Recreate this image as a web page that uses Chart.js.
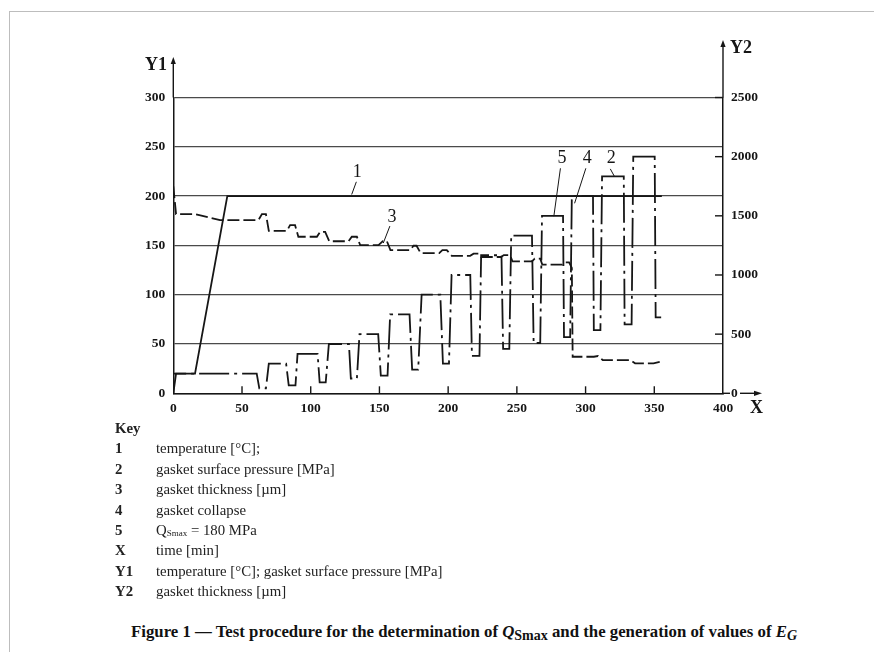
<!DOCTYPE html>
<html>
<head>
<meta charset="utf-8">
<script src="https://cdn.jsdelivr.net/npm/chart.js@4.4.1/dist/chart.umd.min.js"></script>
<style>
  html, body { margin: 0; padding: 0; background: #fff; }
  body { width: 874px; height: 652px; position: relative; overflow: hidden; }
  #frameTop { position: absolute; left: 9px; top: 11px; width: 865px; height: 0; border-top: 1.5px solid #bdbdbd; }
  #frameLeft { position: absolute; left: 9px; top: 11px; width: 0; height: 641px; border-left: 1.5px solid #bdbdbd; }
  #c { position: absolute; left: 0; top: 0; }
  #key { position: absolute; left: 115px; top: 418px; font-family: 'Liberation Serif', serif; font-size: 14.8px; line-height: 20.4px; color: #222; }
  #key .row { white-space: nowrap; height: 20.4px; }
  #key .n { display: inline-block; width: 41px; font-weight: bold; }
  #key sub { font-size: 9px; vertical-align: baseline; position: relative; top: 1px; line-height: 0; }
  #title { position: absolute; left: 131px; top: 621px; font-family: 'Liberation Serif', serif; font-size: 16.8px; line-height: 22px; font-weight: bold; color: #111; white-space: nowrap; }
  #title sub { font-size: 14px; vertical-align: baseline; position: relative; top: 3px; line-height: 0; }
</style>
</head>
<body>
<div id="frameTop"></div>
<div id="frameLeft"></div>
<canvas id="c" width="874" height="420"></canvas>
<div id="key">
  <div class="row"><b>Key</b></div>
  <div class="row"><span class="n">1</span>temperature [°C];</div>
  <div class="row"><span class="n">2</span>gasket surface pressure [MPa]</div>
  <div class="row"><span class="n">3</span>gasket thickness [µm]</div>
  <div class="row"><span class="n">4</span>gasket collapse</div>
  <div class="row"><span class="n">5</span>Q<sub>Smax</sub> = 180 MPa</div>
  <div class="row"><span class="n">X</span>time [min]</div>
  <div class="row"><span class="n">Y1</span>temperature [°C]; gasket surface pressure [MPa]</div>
  <div class="row"><span class="n">Y2</span>gasket thickness [µm]</div>
</div>
<div id="title">Figure 1 — Test procedure for the determination of <i>Q</i><sub>Smax</sub> and the generation of values of <i>E</i><sub><i>G</i></sub></div>
<script>
// ---- data ----
const xTicks = [0, 50, 100, 150, 200, 250, 300, 350, 400];
const y1Ticks = [0, 50, 100, 150, 200, 250, 300];
const y2Ticks = [0, 500, 1000, 1500, 2000, 2500];

const temperatureTime = [0, 15.8, 39.3, 355.5];
const temperatureValue = [20, 20, 200, 200];

const pressureTime = [0, 2, 60.7, 62.6, 67.4, 69.5, 82.1, 84, 88.9, 90.4, 105, 106.5, 110.9, 113.2,
  127.8, 129.2, 133.6, 135.5, 149.1, 151, 155.9, 157.8, 171.9, 173.8, 178.2, 180.7, 194.3, 196.2,
  200.6, 202.5, 216.1, 217.3, 222.8, 224, 238.8, 240, 244.5, 245.9, 261, 262.2, 267, 268.3,
  283.6, 284.3, 288.8, 290, 305.4, 306, 310.8, 312, 327.8, 328.4, 333.5, 334.7, 350.3, 351, 355];
const pressureValue = [0, 20, 20, 5, 5, 30, 30, 8, 8, 40, 40, 11, 11, 50,
  50, 15, 15, 60, 60, 18, 18, 80, 80, 24, 24, 100, 100, 30,
  30, 120, 120, 38, 38, 140, 140, 45, 45, 160, 160, 51, 51, 180,
  180, 57, 57, 200, 200, 64, 64, 220, 220, 70, 70, 240, 240, 77, 77];

const thicknessTime = [0, 2, 15.8, 34, 62, 64.5, 67.4, 69.5, 82.6, 85, 88.6, 91, 104.5, 106.9, 110.5,
  113.5, 127.5, 129.9, 133.6, 136, 149.3, 152.5, 155.4, 158, 172.4, 174.8, 177, 180, 193.5, 195.8,
  199, 202.6, 216, 218.5, 222, 224, 238.5, 240.5, 245, 246.8, 261, 263, 267, 268.5, 283, 284.8,
  288, 290, 290.6, 306, 309, 312.5, 332.4, 336, 349.4, 354.5];
const thicknessValue = [1750, 1515, 1515, 1464, 1464, 1515, 1515, 1373, 1373, 1421, 1421, 1323, 1323, 1365, 1365,
  1285, 1285, 1323, 1323, 1252, 1252, 1286, 1286, 1210, 1210, 1247, 1247, 1185, 1185, 1210,
  1210, 1162, 1162, 1180, 1180, 1152, 1152, 1168, 1168, 1115, 1115, 1138, 1138, 1088, 1088, 1106,
  1106, 1060, 309, 309, 315, 281, 281, 253, 253, 267];

// callouts: label, text position and leader line (data units of x / y1)
const callouts = [
  { label: '1', tx: 133.8, ty: 224.6, x1: 133.2, y1: 214.5, x2: 129.8, y2: 201.6 },
  { label: '3', tx: 159.1, ty: 179.0, x1: 157.6, y1: 169.6, x2: 152.8, y2: 152.4 },
  { label: '5', tx: 282.8, ty: 238.3, x1: 281.7, y1: 228.2, x2: 276.9, y2: 179.5 },
  { label: '4', tx: 301.2, ty: 238.3, x1: 300.2, y1: 228.2, x2: 292.0, y2: 192.7 },
  { label: '2', tx: 318.7, ty: 238.3, x1: 318.0, y1: 227.6, x2: 321.1, y2: 219.7 }
];

const toXY = (xs, ys) => xs.map((x, i) => ({ x: x, y: ys[i] }));

const INK = '#161616';
const tickFont = { family: 'Liberation Serif', size: 13.5, weight: 'bold' };
const plainLabel = v => String(v);

const decor = {
  id: 'decor',
  afterDraw(chart) {
    const { ctx, chartArea: a, scales } = chart;
    const xs = scales.x, y1 = scales.y, y2 = scales.y2;
    ctx.save();
    ctx.strokeStyle = INK;
    ctx.fillStyle = INK;
    ctx.lineWidth = 1.4;
    // inward ticks on X
    xs.ticks.forEach(t => {
      if (t.value <= 0 || t.value >= 400) return;
      const px = xs.getPixelForValue(t.value);
      ctx.beginPath(); ctx.moveTo(px, a.bottom); ctx.lineTo(px, a.bottom - 7); ctx.stroke();
    });
    // inward ticks on Y2
    y2.ticks.forEach(t => {
      if (t.value <= 0) return;
      const py = y2.getPixelForValue(t.value);
      ctx.beginPath(); ctx.moveTo(a.right, py); ctx.lineTo(a.right - 8, py); ctx.stroke();
    });
    // axis extensions with arrows
    const arrowUp = (x, yTop, yFrom) => {
      ctx.beginPath(); ctx.moveTo(x, yFrom); ctx.lineTo(x, yTop + 4); ctx.stroke();
      ctx.beginPath(); ctx.moveTo(x, yTop); ctx.lineTo(x - 2.6, yTop + 7); ctx.lineTo(x + 2.6, yTop + 7); ctx.closePath(); ctx.fill();
    };
    arrowUp(a.left, 57, a.top);
    arrowUp(a.right, 40, a.top);
    const yb = a.bottom;
    ctx.beginPath(); ctx.moveTo(a.right, yb); ctx.lineTo(a.right + 7, yb); ctx.stroke();
    ctx.beginPath(); ctx.moveTo(a.right + 17, yb); ctx.lineTo(758, yb); ctx.stroke();
    ctx.beginPath(); ctx.moveTo(762, yb); ctx.lineTo(754, yb - 2.6); ctx.lineTo(754, yb + 2.6); ctx.closePath(); ctx.fill();
    // axis names
    ctx.font = 'bold 18px "Liberation Serif"';
    ctx.textBaseline = 'middle';
    ctx.textAlign = 'right';
    ctx.fillText('Y1', 167, 65);
    ctx.textAlign = 'left';
    ctx.fillText('Y2', 730, 48);
    ctx.fillText('X', 750, 408);
    // callouts
    ctx.font = '18px "Liberation Serif"';
    ctx.textAlign = 'center';
    ctx.lineWidth = 1;
    callouts.forEach(c => {
      ctx.fillText(c.label, xs.getPixelForValue(c.tx), y1.getPixelForValue(c.ty));
      ctx.beginPath();
      ctx.moveTo(xs.getPixelForValue(c.x1), y1.getPixelForValue(c.y1));
      ctx.lineTo(xs.getPixelForValue(c.x2), y1.getPixelForValue(c.y2));
      ctx.stroke();
    });
    ctx.restore();
  }
};

new Chart(document.getElementById('c'), {
  type: 'line',
  data: {
    datasets: [
      { label: 'temperature', data: toXY(temperatureTime, temperatureValue), yAxisID: 'y',
        borderColor: INK, borderWidth: 1.8, pointRadius: 0, tension: 0, fill: false },
      { label: 'gasket surface pressure', data: toXY(pressureTime, pressureValue), yAxisID: 'y',
        borderColor: INK, borderWidth: 1.8, pointRadius: 0, tension: 0, fill: false, borderDash: [30, 5, 3, 5] },
      { label: 'gasket thickness', data: toXY(thicknessTime, thicknessValue), yAxisID: 'y2',
        borderColor: INK, borderWidth: 1.8, pointRadius: 0, tension: 0, fill: false, borderDash: [12, 4] }
    ]
  },
  options: {
    responsive: false,
    animation: false,
    devicePixelRatio: 1,
    layout: { padding: { top: 97.5, left: 0, right: 0, bottom: 0 } },
    plugins: { legend: { display: false }, tooltip: { enabled: false } },
    scales: {
      x: {
        type: 'linear', min: 0, max: 400,
        afterBuildTicks: s => { s.ticks = xTicks.map(v => ({ value: v })); },
        afterFit: s => { s.height = 26.7; },
        ticks: { font: tickFont, color: INK, padding: 7, maxRotation: 0, callback: plainLabel },
        grid: { display: false, drawTicks: false },
        border: { display: true, color: INK, width: 1.5 }
      },
      y: {
        type: 'linear', position: 'left', min: 0, max: 300,
        afterBuildTicks: s => { s.ticks = y1Ticks.map(v => ({ value: v })); },
        afterFit: s => { s.width = 173.3; },
        ticks: { font: tickFont, color: INK, padding: 8, callback: plainLabel },
        grid: { color: '#4a4a4a', lineWidth: 1.3, drawTicks: false },
        border: { display: true, color: INK, width: 1.5 }
      },
      y2: {
        type: 'linear', position: 'right', min: 0, max: 2500,
        afterBuildTicks: s => { s.ticks = y2Ticks.map(v => ({ value: v })); },
        afterFit: s => { s.width = 151; },
        ticks: { font: tickFont, color: INK, padding: 8, callback: plainLabel },
        grid: { drawOnChartArea: false, drawTicks: false },
        border: { display: true, color: INK, width: 1.5 }
      }
    }
  },
  plugins: [decor]
});
</script>
</body>
</html>
